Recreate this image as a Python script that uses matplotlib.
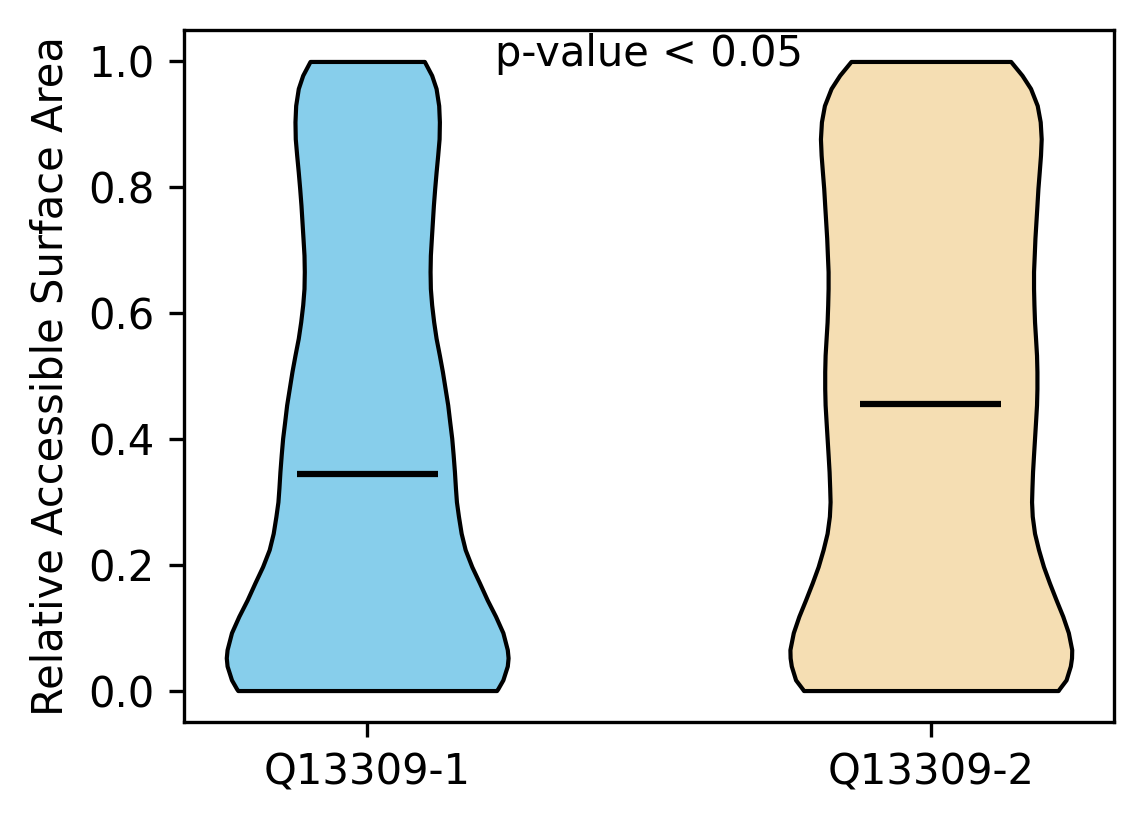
import numpy as np
from matplotlib import pyplot as plt

# 两组样本名称
labels = ['Q13309-1', 'Q13309-2']
colors = ['skyblue', 'wheat']

# 小提琴轮廓：y 坐标和对应的半宽（像素，只用于相对密度）
ys_1 = [0.000, 0.003, 0.017, 0.039, 0.052, 0.065, 0.092, 0.118, 0.144, 0.171,
        0.197, 0.224, 0.250, 0.277, 0.300, 0.322, 0.348, 0.375, 0.401, 0.427,
        0.454, 0.480, 0.507, 0.533, 0.560, 0.586, 0.613, 0.639, 0.666, 0.692,
        0.719, 0.745, 0.771, 0.798, 0.824, 0.851, 0.877, 0.904, 0.930, 0.957,
        0.978, 1.000]
dens_1 = [129, 130.3, 135.3, 139.7, 140.5, 139.7, 135.3, 128, 119.7, 112,
          104.3, 97.7, 93.7, 91, 89, 88, 87, 85.7, 84.3, 82.3,
          80.3, 77.7, 75, 72, 68.7, 66.3, 64.3, 63, 62.7, 63,
          64, 65, 66, 67.3, 68.7, 70.3, 71.7, 72, 71.3, 68.7,
          64.3, 57]

ys_2 = [0.000, 0.003, 0.017, 0.039, 0.052, 0.065, 0.092, 0.118, 0.144, 0.171,
        0.197, 0.224, 0.250, 0.277, 0.300, 0.322, 0.348, 0.375, 0.401, 0.427,
        0.454, 0.480, 0.507, 0.533, 0.560, 0.586, 0.613, 0.639, 0.666, 0.692,
        0.719, 0.745, 0.771, 0.798, 0.824, 0.851, 0.877, 0.904, 0.930, 0.957,
        0.978, 1.000]
dens_2 = [128, 129.3, 136, 140.3, 141.5, 141.7, 138.3, 132.7, 126, 119.3,
          113.3, 108.3, 104.3, 102, 101.3, 101.7, 102.3, 103.3, 104.3, 105.3,
          106.3, 106.7, 106.7, 106.3, 105.3, 104.3, 103.7, 103.3, 103.3, 104,
          104.7, 105.7, 106.7, 107.7, 109, 110.3, 111, 110, 107, 100.3,
          91.7, 80.3]

medians = [0.345, 0.456]


def make_stats(ys, dens, median):
    """
    :param ys: 轮廓的 y 坐标
    :param dens: 对应密度
    :param median: 中位数
    :return: ax.violin 需要的统计字典
    """
    return {
        'coords': np.array(ys),
        'vals': np.array(dens, dtype=float),
        'mean': median,
        'median': median,
        'min': min(ys),
        'max': max(ys),
    }


fig = plt.figure(figsize=(1144 / 300, 824 / 300), dpi=300)
ax = fig.add_axes([184 / 1144, 1 - 722 / 824, 930 / 1144, 692 / 824])

positions = np.array([1, 2])
stats = [make_stats(ys_1, dens_1, medians[0]), make_stats(ys_2, dens_2, medians[1])]
parts = ax.violin(stats, positions=positions, widths=0.5,
                  showmeans=False, showextrema=False, showmedians=False)
for body, c in zip(parts['bodies'], colors):
    body.set_facecolor(c)
    body.set_edgecolor('black')
    body.set_linewidth(1)
    body.set_alpha(1)

ax.hlines(medians, positions - 0.125, positions + 0.125, color='black', linewidth=1.5)

ax.set_xticks(positions)
ax.set_xticklabels(labels)
ax.set_ylabel('Relative Accessible Surface Area')
ax.text(0.5, 0.948, 'p-value < 0.05', transform=ax.transAxes,
        ha='center', va='baseline')

fig.savefig('out.png', dpi=300)
